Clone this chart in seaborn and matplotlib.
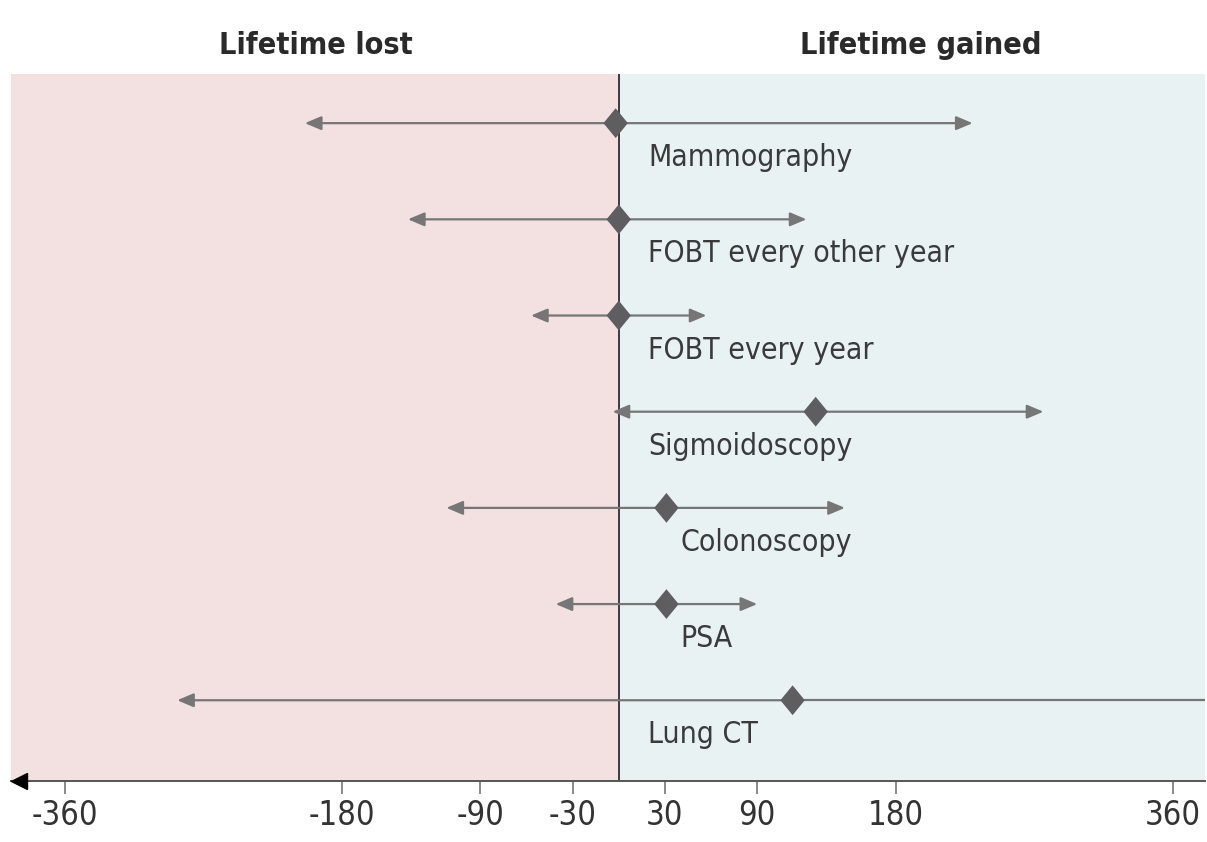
import numpy as np
import pandas as pd
import matplotlib
matplotlib.use("Agg")
import matplotlib.pyplot as plt
from matplotlib.path import Path
import seaborn as sns

# screening tests, lifetime gained/lost (days): point estimate and range
screenings = ["Mammography", "FOBT every other year", "FOBT every year",
              "Sigmoidoscopy", "Colonoscopy", "PSA", "Lung CT"]
estimate = [-2, 0, 0, 128, 31, 31, 113]
lower = [-204, -137, -57, -4, -112, -41, -287]
upper = [230, 122, 57, 276, 147, 90, 420]
xticks = [-360, -180, -90, -30, 30, 90, 180, 360]

df = pd.DataFrame({"screening": screenings, "estimate": estimate,
                   "lower": lower, "upper": upper})
df["row"] = np.arange(len(df))

sns.set_theme(style="white")
plt.rcParams["font.family"] = ["DejaVu Sans"]
plt.rcParams["font.stretch"] = "condensed"

fig = plt.figure(figsize=(12.07, 8.42), dpi=100)
ax = fig.add_axes([0.0091, 0.0724, 0.9892, 0.8396])

xmin, xmax = -395, 381
pink = "#f3e1e2"
blue = "#e8f2f3"
line_col = "#767676"
mark_col = "#5e5e60"

ax.axvspan(xmin, 0, color=pink, zorder=0, lw=0)
ax.axvspan(0, xmax, color=blue, zorder=0, lw=0)
ax.axvline(0, color="#3c3c3c", lw=1.4, zorder=1)

arrow_kw = dict(arrowstyle="-|>,head_length=0.45,head_width=0.19", color=line_col,
                lw=1.6, mutation_scale=22, shrinkA=0, shrinkB=0)

for _, r in df.iterrows():
    y = r["row"]
    # left whisker
    ax.annotate("", xy=(r["lower"], y), xytext=(r["estimate"], y),
                arrowprops=arrow_kw, zorder=2)
    if r["upper"] <= xmax:
        ax.annotate("", xy=(r["upper"], y), xytext=(r["estimate"], y),
                    arrowprops=arrow_kw, zorder=2)
    else:
        # range runs off the chart: no arrow head
        ax.plot([r["estimate"], r["upper"]], [y, y], color=line_col, lw=1.6, zorder=2)

    # labels sit under the point; near-zero estimates share a common start
    est = r["estimate"]
    lx = est + 9 if 10 < est < 60 else 19
    ax.text(lx, y + 0.36, r["screening"], fontsize=21.6, color="#3a3a3a",
            ha="left", va="center", zorder=4)

diamond = Path([(0, 1), (0.82, 0), (0, -1), (-0.82, 0), (0, 1)],
               [Path.MOVETO, Path.LINETO, Path.LINETO, Path.LINETO, Path.CLOSEPOLY])
sns.scatterplot(data=df, x="estimate", y="row", marker=diamond, s=460,
                color=mark_col, edgecolor="none", ax=ax, zorder=3, legend=False)

ax.set_xlim(xmin, xmax)
ax.set_ylim(6.84, -0.51)
ax.set_xticks(xticks)
ax.set_xticklabels([str(t) for t in xticks])
ax.set_yticks([])
ax.set_xlabel("")
ax.set_ylabel("")
for s in ["top", "right", "left"]:
    ax.spines[s].set_visible(False)
ax.spines["bottom"].set_color("#555555")
ax.spines["bottom"].set_linewidth(1.4)
ax.tick_params(axis="x", direction="out", length=9, width=1.2, color="#777777",
               labelsize=23.5, labelcolor="#333333", pad=4, bottom=True)

# arrow head at the left end of the axis
ax.plot([0.007], [0], marker="<", markersize=11, color="black",
        transform=ax.transAxes, clip_on=False, zorder=5)

fig.text(0.262, 0.946, "Lifetime lost", fontsize=22, fontweight="bold",
         color="#2a2a2a", ha="center", va="center")
fig.text(0.763, 0.946, "Lifetime gained", fontsize=22, fontweight="bold",
         color="#2a2a2a", ha="center", va="center")

fig.savefig("out.png", dpi=100)
